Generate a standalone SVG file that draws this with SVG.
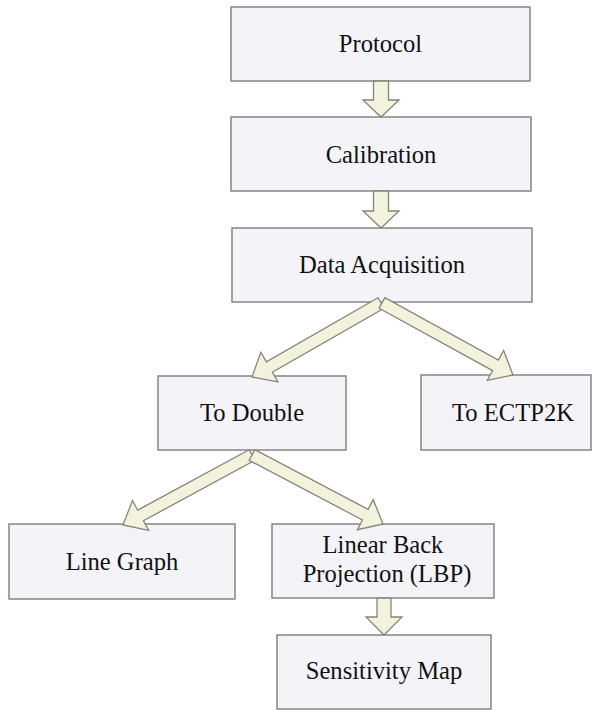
<svg xmlns="http://www.w3.org/2000/svg" width="598" height="710" viewBox="0 0 598 710">
<style>
.box{fill:#f4f4f8;stroke:#8a8483;stroke-width:1.5}
.lbl{font-family:'Liberation Serif','Times New Roman','DejaVu Serif',serif;font-size:24.6px;fill:#111111;text-anchor:middle}
.arr{fill:#f2f2dd;stroke:#85857a;stroke-width:1.3;stroke-linejoin:miter}
</style>
<rect width="598" height="710" fill="#ffffff"/>
<g id="protocol"><rect class="box" x="231" y="7" width="299" height="74"/><text class="lbl" x="380.5" y="52">Protocol</text></g>
<g id="calibration"><rect class="box" x="231" y="117" width="300" height="74"/><text class="lbl" x="381" y="163">Calibration</text></g>
<g id="data-acquisition"><rect class="box" x="232" y="228" width="300" height="74"/><text class="lbl" x="382" y="273">Data Acquisition</text></g>
<g id="to-double"><rect class="box" x="158" y="376" width="188" height="74"/><text class="lbl" x="252" y="421">To Double</text></g>
<g id="to-ectp2k"><rect class="box" x="421" y="375" width="170" height="75"/><text class="lbl" x="513" y="421">To ECTP2K</text></g>
<g id="line-graph"><rect class="box" x="9" y="524" width="226" height="75"/><text class="lbl" x="122" y="570">Line Graph</text></g>
<g id="lbp"><rect class="box" x="272" y="524" width="222" height="74"/><text class="lbl" x="383" y="553">Linear Back</text><text class="lbl" x="387" y="582">Projection (LBP)</text></g>
<g id="sensitivity-map"><rect class="box" x="277" y="635" width="214" height="74"/><text class="lbl" x="384" y="679">Sensitivity Map</text></g>
<g id="connectors">
<polygon class="arr" points="373.5,81 388.5,81 388.5,100 399,100 381,117 363,100 373.5,100"/>
<polygon class="arr" points="373.5,191 388.5,191 388.5,211 399,211 381,228 363,211 373.5,211"/>
<polygon class="arr" points="377,598 391,598 391,617 402,617 384,635 366,617 377,617"/>
<polygon class="arr" points="378.01,297.8 266.36,361.85 260.89,352.3 252,377 277.81,381.8 272.34,372.25 383.99,308.2"/>
<polygon class="arr" points="379.11,308.26 492.58,370.63 487.28,380.27 513,375 503.66,350.47 498.36,360.11 384.89,297.74"/>
<polygon class="arr" points="249.14,449.73 137.72,510.19 132.47,500.52 123,525 148.69,530.4 143.44,520.73 254.86,460.27"/>
<polygon class="arr" points="249.2,460.31 362.5,519.99 357.38,529.72 383,524 373.22,499.64 368.1,509.37 254.8,449.69"/>
</g>
</svg>
